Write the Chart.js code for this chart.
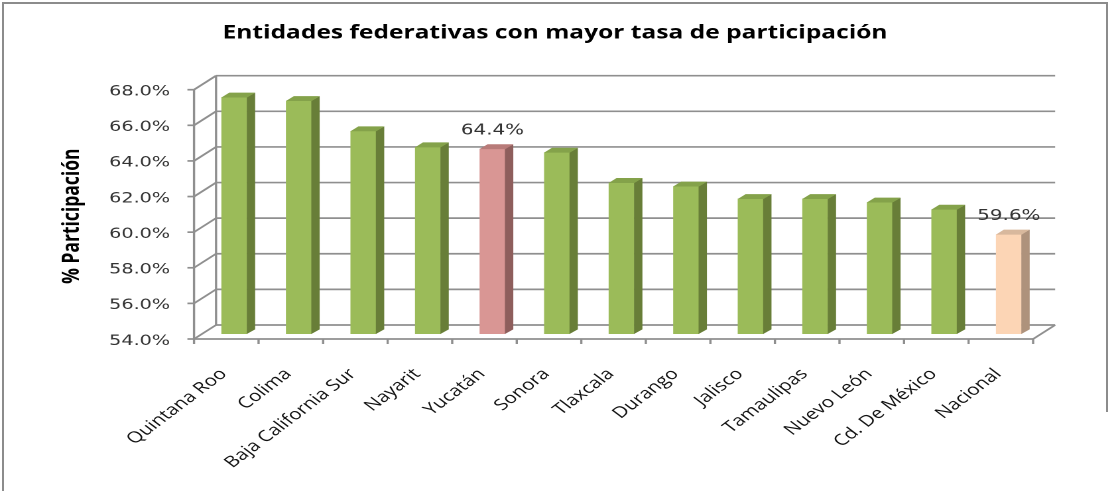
<!DOCTYPE html>
<html>
<head>
<meta charset="utf-8">
<script src="https://cdn.jsdelivr.net/npm/chart.js@4/dist/chart.umd.min.js"></script>
<style>
html,body{margin:0;padding:0;background:#fff;overflow:hidden;width:1110px;height:491px;}
#stretch{position:absolute;left:0;top:0;width:837px;height:491px;transform:scaleX(1.3262);transform-origin:0 0;}
.bd{position:absolute;background:#8c8c8c;}
</style>
</head>
<body>
<div id="stretch"><canvas id="c" width="837" height="491"></canvas></div>
<div class="bd" style="left:2px;top:2px;width:1105px;height:2px"></div>
<div class="bd" style="left:2px;top:2px;width:2px;height:489px"></div>
<div class="bd" style="left:1106px;top:2px;width:2px;height:410px"></div>
<script>
// ---- data ----
const categories = ['Quintana Roo', 'Colima', 'Baja California Sur', 'Nayarit', 'Yucatán', 'Sonora',
  'Tlaxcala', 'Durango', 'Jalisco', 'Tamaulipas', 'Nuevo León', 'Cd. De México', 'Nacional'];
const participation = [67.3, 67.1, 65.4, 64.5, 64.4, 64.2, 62.5, 62.3, 61.6, 61.6, 61.4, 61.0, 59.6];
const labelledCategories = ['Yucatán', 'Nacional'];
const yMin = 54, yMax = 68, yStep = 2;
const chartTitle = 'Entidades federativas con mayor tasa de participación';
const yTitle = '% Participación';

// ---- styles ----
const kindOf = c => c === 'Yucatán' ? 'pink' : (c === 'Nacional' ? 'peach' : 'green');
const palette = {
  green: { front: '#9BBB59', side: '#687E38', top: '#84A24A' },
  pink:  { front: '#D99694', side: '#8E5E5C', top: '#B87B79' },
  peach: { front: '#FCD5B5', side: '#AE927C', top: '#D8B89D' }
};
const frontColors = categories.map(c => palette[kindOf(c)].front);

// 3D offsets (canvas px, before horizontal stretch)
const FX = -6, FY = 5;     // front plane relative to bar plane
const BX = 10.6, BY = -9;  // back wall relative to bar plane
const DX = 6, DY = -4.6;   // bar depth
const gridColor = '#8f8f8f';

const excel3d = {
  id: 'excel3d',
  beforeDatasetsDraw(chart) {
    const { ctx, chartArea: { left, right, bottom }, scales: { x, y } } = chart;
    const line = (x1, y1, x2, y2) => { ctx.beginPath(); ctx.moveTo(x1, y1); ctx.lineTo(x2, y2); ctx.stroke(); };
    ctx.save();
    ctx.strokeStyle = gridColor;
    ctx.lineWidth = 1.7;
    y.ticks.forEach(t => {
      const py = y.getPixelForValue(t.value);
      line(left + FX, py + FY, left + BX, py + BY);
      line(left + BX, py + BY, right + BX, py + BY);
      line(left + FX - 5, py + FY, left + FX, py + FY);
    });
    line(left + BX, y.getPixelForValue(yMax) + BY, left + BX, bottom + BY);
    line(left + FX, y.getPixelForValue(yMax) + FY, left + FX, bottom + FY);
    line(left + FX, bottom + FY, right + FX, bottom + FY);
    line(right + FX, bottom + FY, right + BX, bottom + BY);
    const n = categories.length;
    const half = (x.getPixelForValue(1) - x.getPixelForValue(0)) / 2;
    for (let i = 0; i <= n; i++) {
      const px = (i < n ? x.getPixelForValue(i) - half : x.getPixelForValue(n - 1) + half);
      line(px + FX, bottom + FY, px + FX, bottom + FY + 5);
    }
    ctx.restore();
  },
  afterDatasetsDraw(chart) {
    const { ctx, scales: { y: ys } } = chart;
    const meta = chart.getDatasetMeta(0);
    const base = ys.getPixelForValue(yMin);
    ctx.save();
    meta.data.forEach((bar, i) => {
      const p = palette[kindOf(categories[i])];
      const { x, y, width } = bar.getProps(['x', 'y', 'width'], true);
      const l = x - width / 2, r = x + width / 2;
      // side face
      ctx.fillStyle = p.side;
      ctx.beginPath();
      ctx.moveTo(r - 0.3, y); ctx.lineTo(r + DX, y + DY); ctx.lineTo(r + DX, base + DY); ctx.lineTo(r - 0.3, base);
      ctx.closePath(); ctx.fill();
      // top face
      ctx.fillStyle = p.top;
      ctx.beginPath();
      ctx.moveTo(l, y + 0.3); ctx.lineTo(l + DX, y + DY); ctx.lineTo(r + DX, y + DY); ctx.lineTo(r, y + 0.3);
      ctx.closePath(); ctx.fill();
      // data label
      if (labelledCategories.includes(categories[i])) {
        ctx.fillStyle = '#333333';
        ctx.font = '15px "DejaVu Sans"';
        ctx.textAlign = 'center';
        ctx.textBaseline = 'middle';
        ctx.fillText(participation[i].toFixed(1) + '%', x, y - 18);
      }
    });
    ctx.restore();
  }
};

new Chart(document.getElementById('c'), {
  type: 'bar',
  data: {
    labels: categories,
    datasets: [{
      data: participation,
      backgroundColor: frontColors,
      borderWidth: 0,
      barPercentage: 0.4,
      categoryPercentage: 1.0
    }]
  },
  options: {
    responsive: false,
    devicePixelRatio: 2,
    animation: false,
    layout: { padding: { left: 0, right: 0, top: 0, bottom: 0 } },
    plugins: {
      legend: { display: false },
      tooltip: { enabled: false },
      title: {
        display: true,
        text: chartTitle,
        color: '#000000',
        font: { family: '"Open Sans"', size: 18.5, weight: 'bold', lineHeight: 1.2 },
        padding: { top: 21.9, bottom: 40.6 }
      }
    },
    scales: {
      x: {
        grid: { display: false, drawTicks: false },
        border: { display: false },
        afterFit: s => { s.height = 157; },
        ticks: {
          autoSkip: false,
          minRotation: 45,
          maxRotation: 45,
          labelOffset: -8,
          padding: 31,
          color: '#111111',
          font: { family: '"Open Sans"', size: 15.5 }
        }
      },
      y: {
        min: yMin,
        max: yMax,
        grid: { display: false, drawTicks: false },
        border: { display: false },
        afterFit: s => { s.width = 152.3; },
        ticks: {
          stepSize: yStep,
          padding: 24,
          labelOffset: 7,
          color: '#333333',
          font: { family: '"DejaVu Sans"', size: 14.5 },
          callback: v => Number(v).toFixed(1) + '%'
        },
        title: {
          display: true,
          text: yTitle + '\u00A0\u00A0\u00A0',
          color: '#000000',
          font: { family: '"Open Sans"', size: 17.5, weight: 'bold', lineHeight: 1.2 },
          padding: { top: 43.8, bottom: 0 }
        }
      },
      yRight: {
        position: 'right',
        display: true,
        grid: { display: false, drawTicks: false },
        border: { display: false },
        ticks: { display: false },
        afterFit: s => { s.width = 52; }
      }
    }
  },
  plugins: [excel3d]
});
</script>
</body>
</html>
